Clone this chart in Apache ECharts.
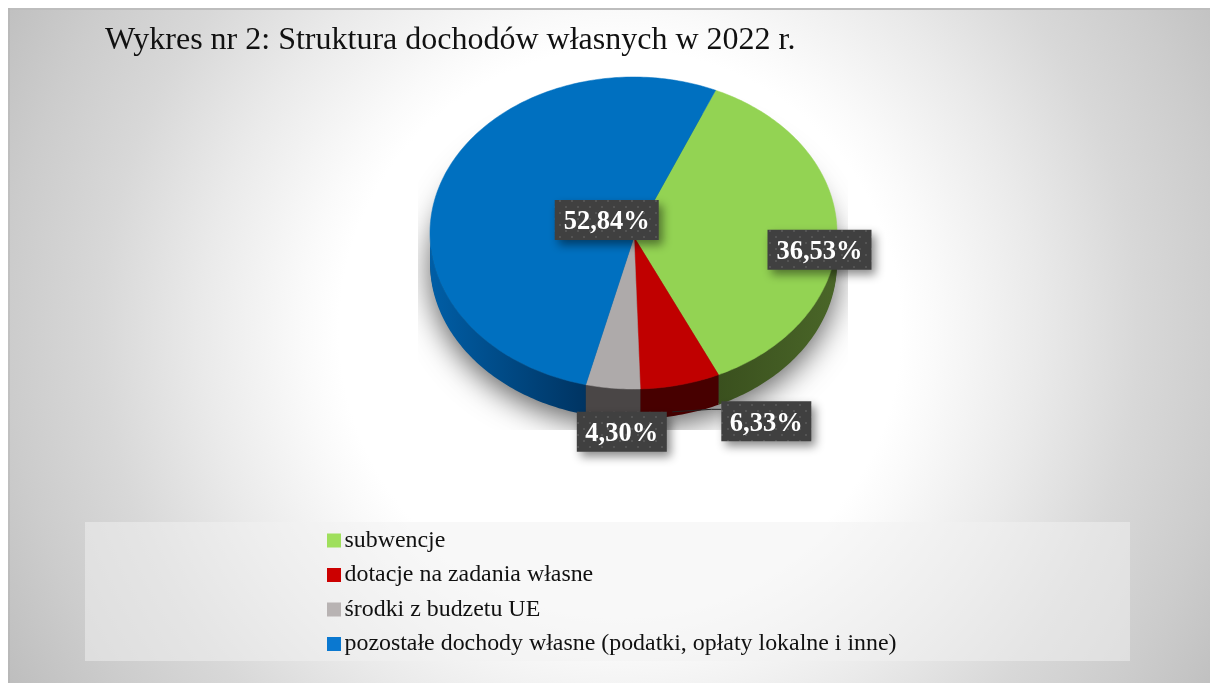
<!DOCTYPE html>
<html><head><meta charset="utf-8">
<style>html,body{margin:0;padding:0;background:#fff}#c{width:1210px;height:683px}</style>
<script src="https://cdn.jsdelivr.net/npm/echarts@6/dist/echarts.min.js"></script>
</head><body><div id="c"></div>
<script>
// ---- data ----
const categories = ['subwencje', 'dotacje na zadania własne', 'środki z budzetu UE', 'pozostałe dochody własne (podatki, opłaty lokalne i inne)'];
const shares = [36.53, 6.33, 4.30, 52.84];
const titleText = 'Wykres nr 2: Struktura dochodów własnych w 2022 r.';

// ---- styles / layout ----
const topColors = ['#93d353', '#c00000', '#aeaaaa', '#0070c0'];
const legendColors = ['#9fdf5c', '#cc0000', '#b8b3b3', '#0a78d0'];
const wallColors = [['#3a501e', '#4a6628'], ['#470000', '#470000'], ['#4a4646', '#4a4646'], ['#005ea6', '#003462']];
const labelOffsets = [[-17.5, 18], [86, 36.5], [9, 43.5], [166, 37]];
const geo = { cx: 633.5, cy: 233, rx: 203.5, ry: 156, ax: 634, ay: 237, depth: 30, start: 23.8 };
const SERIF = '"Liberation Serif","Times New Roman",serif';

const total = shares.reduce((a, b) => a + b, 0);
const rim = (deg, dy) => {
  const t = deg * Math.PI / 180;
  return [geo.cx + geo.rx * Math.sin(t), geo.cy + (dy || 0) - geo.ry * Math.cos(t)];
};
const arc = (a, b, dy) => {
  const pts = [], n = Math.max(2, Math.ceil(Math.abs(b - a)));
  for (let i = 0; i <= n; i++) pts.push(rim(a + (b - a) * i / n, dy));
  return pts;
};

// dotted texture of the data-label boxes
const tile = document.createElement('canvas');
tile.width = 12; tile.height = 12;
(() => {
  const g = tile.getContext('2d');
  g.fillStyle = '#404040'; g.fillRect(0, 0, 12, 12);
  g.fillStyle = '#545454';
  g.fillRect(1, 2, 2, 2); g.fillRect(7, 8, 2, 2);
})();

function renderSlice(idx) {
  return function (params, api) {
    const v = api.value(0);
    let before = 0;
    for (let i = 0; i < idx; i++) before += shares[i];
    const a0 = geo.start + before / total * 360;
    const a1 = a0 + v / total * 360;
    const mid = (a0 + a1) / 2;
    const children = [];
    // side wall: only the front part of the rim (90..270 degrees)
    const w0 = Math.max(a0, 90), w1 = Math.min(a1, 270);
    if (w1 > w0) {
      const top = arc(w0, w1), bottom = arc(w1, w0, geo.depth);
      const xs = top.map(p => p[0]);
      const c = wallColors[idx];
      children.push({
        type: 'polygon', shape: { points: top.concat(bottom) },
        style: {
          fill: {
            type: 'linear', global: true,
            x: Math.min(...xs), y: 0, x2: Math.max(...xs), y2: 0,
            colorStops: [{ offset: 0, color: c[0] }, { offset: 1, color: c[1] }]
          }
        }, z2: 2
      });
    }
    // top face
    children.push({
      type: 'polygon', shape: { points: [[geo.ax, geo.ay]].concat(arc(a0, a1)) },
      style: { fill: topColors[idx], stroke: topColors[idx], lineWidth: 0.5 }, z2: 3
    });
    // data label
    const rp = rim(mid);
    const lx = rp[0] + labelOffsets[idx][0], ly = rp[1] + labelOffsets[idx][1];
    const txt = v.toFixed(2).replace('.', ',') + '%';
    const bw = v >= 10 ? 104 : 90, bh = 40;
    if (idx === 1) {
      const b = rim(mid, geo.depth);
      children.push({
        type: 'polyline',
        shape: { points: [[b[0] - 8, b[1] - 3], [lx - bw / 2 - 10, ly - bh / 2 + 8], [lx - bw / 2, ly - bh / 2 + 8]] },
        style: { stroke: '#222', lineWidth: 1, fill: null }, z2: 4
      });
    }
    children.push({
      type: 'rect', shape: { x: lx - bw / 2, y: ly - bh / 2, width: bw, height: bh },
      style: {
        fill: { image: tile, repeat: 'repeat' },
        shadowBlur: 10, shadowOffsetX: 4, shadowOffsetY: 5, shadowColor: 'rgba(0,0,0,0.45)'
      }, z2: 50
    });
    children.push({
      type: 'text', x: lx, y: ly + 2.5,
      style: { text: txt, fill: '#fff', font: 'bold 26.5px ' + SERIF, align: 'center', verticalAlign: 'middle' },
      z2: 51
    });
    return { type: 'group', children };
  };
}

const sliceSeries = categories.map((name, i) => ({
  type: 'custom', name, coordinateSystem: 'none', silent: true, animation: false,
  data: [[shares[i]]],
  itemStyle: { color: legendColors[i] },
  renderItem: renderSlice(i)
}));

const shadowSeries = {
  type: 'custom', coordinateSystem: 'none', silent: true, animation: false, data: [[0]],
  renderItem() {
    return {
      type: 'polygon',
      shape: { points: arc(0, 360, geo.depth - 2) },
      clipPath: { type: 'rect', shape: { x: 418, y: 60, width: 430, height: 370 } },
      style: { fill: '#333', shadowBlur: 30, shadowOffsetX: 0, shadowOffsetY: 10, shadowColor: 'rgba(0,0,0,0.62)' },
      z2: 0
    };
  }
};

const chart = echarts.init(document.getElementById('c'), null, { renderer: 'canvas', width: 1210, height: 683 });
chart.setOption({
  animation: false,
  backgroundColor: '#fff',
  title: {
    text: titleText, left: 100, top: 20,
    textStyle: { fontFamily: SERIF, fontSize: 32, fontWeight: 'normal', color: '#111' }
  },
  graphic: [
    {
      type: 'rect', z: 0, shape: { x: 8, y: 8, width: 1202, height: 675 },
      style: {
        fill: {
          type: 'radial', global: true, x: 620, y: 330, r: 720,
          colorStops: [
            { offset: 0, color: '#ffffff' }, { offset: 0.39, color: '#ffffff' },
            { offset: 0.44, color: '#fafafa' }, { offset: 0.58, color: '#eaeaea' },
            { offset: 0.72, color: '#d8d8d8' }, { offset: 0.85, color: '#cccccc' },
            { offset: 0.97, color: '#bfbfbf' }, { offset: 1, color: '#bbbbbb' }
          ]
        }
      }
    },
    { type: 'rect', z: 0, shape: { x: 8, y: 8, width: 1202, height: 2 }, style: { fill: '#bdbdbd' } },
    { type: 'rect', z: 0, shape: { x: 8, y: 8, width: 2, height: 675 }, style: { fill: 'rgba(170,170,170,0.3)' } },
    { type: 'rect', z: 0, shape: { x: 85, y: 522, width: 1045, height: 139 }, style: { fill: 'rgba(242,242,242,0.5)' } }
  ],
  legend: {
    orient: 'vertical', left: 327, top: 528, icon: 'rect',
    itemWidth: 14, itemHeight: 14, itemGap: 9.5, padding: 0,
    data: categories.map((name, i) => ({ name, itemStyle: { color: legendColors[i] } })),
    selectedMode: false,
    textStyle: { fontFamily: SERIF, fontSize: 23.9, color: '#111', padding: [0, 0, 0, -1.5], lineHeight: 25 }
  },
  series: [shadowSeries].concat(sliceSeries)
});
</script></body></html>
